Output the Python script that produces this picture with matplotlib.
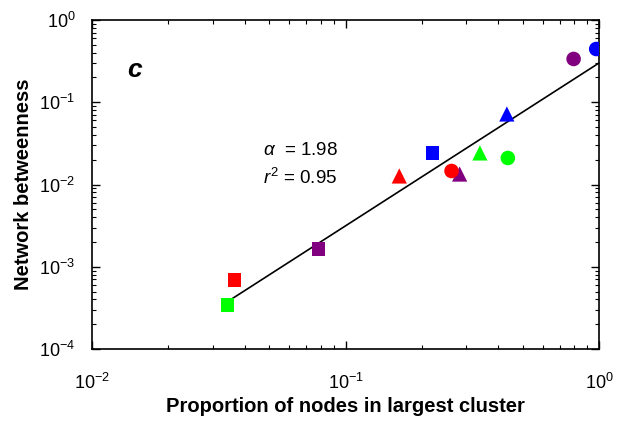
import numpy as np
import matplotlib
matplotlib.use('Agg')
import matplotlib.pyplot as plt

plt.rcParams['font.family'] = ['Liberation Sans', 'DejaVu Sans']
plt.rcParams['mathtext.fontset'] = 'custom'
plt.rcParams['mathtext.rm'] = 'Liberation Sans'
plt.rcParams['mathtext.it'] = 'Liberation Sans:italic'
plt.rcParams['axes.unicode_minus'] = False

# points: proportion of nodes in largest cluster vs network betweenness
squares_x = [0.0342, 0.0365, 0.078, 0.220]
squares_y = [0.000343, 0.00069, 0.00164, 0.0242]
squares_c = ['#00ff00', '#ff0000', '#800080', '#0000ff']

triangles_x = [0.163, 0.282, 0.339, 0.433]
triangles_y = [0.0127, 0.0134, 0.0242, 0.072]
triangles_c = ['#ff0000', '#800080', '#00ff00', '#0000ff']

circles_x = [0.262, 0.437, 0.794, 0.975]
circles_y = [0.0146, 0.0210, 0.336, 0.444]
circles_c = ['#ff0000', '#00ff00', '#800080', '#0000ff']

# power-law fit
fit_alpha = 1.98
fit_coef = 0.30
fit_x = np.array([0.0345, 1.0])
fit_y = fit_coef * fit_x ** fit_alpha

fig = plt.figure(figsize=(6.21, 4.33), dpi=100)
ax = fig.add_axes([92/621, 84/433, 507/621, 329/433])

ax.plot(fit_x, fit_y, color='black', linewidth=1.2, zorder=2)
ax.scatter(squares_x, squares_y, c=squares_c, marker='s', s=90, zorder=3, edgecolors='none')
ax.scatter(triangles_x, triangles_y, c=triangles_c, marker='^', s=120, zorder=3, edgecolors='none')
ax.scatter(circles_x, circles_y, c=circles_c, marker='o', s=110, zorder=3, edgecolors='none')

ax.set_xscale('log')
ax.set_yscale('log')
ax.set_xlim(1e-2, 1e0)
ax.set_ylim(1e-4, 1e0)
ax.set_xticks([1e-2, 1e-1, 1e0])
ax.set_yticks([1e-4, 1e-3, 1e-2, 1e-1, 1e0])

ax.tick_params(which='both', direction='in', top=True, right=True, labelsize=13)
ax.tick_params(which='major', length=6, width=1)
ax.tick_params(which='minor', length=3, width=0.8)
ax.tick_params(axis='x', pad=17)
ax.tick_params(axis='y', pad=12)
for s in ax.spines.values():
    s.set_linewidth(1.2)

ax.set_xlabel('Proportion of nodes in largest cluster', fontsize=14.5, fontweight='bold', labelpad=3)
ax.set_ylabel('Network betweenness', fontsize=14.5, fontweight='bold', labelpad=4.5)

ax.text(0.07, 0.848, 'c', transform=ax.transAxes, fontsize=19, fontweight='bold',
        fontstyle='italic', va='center', ha='left')
ax.text(0.338, 0.602, r'$\alpha$  = 1.98', transform=ax.transAxes, fontsize=13.5, va='center')
ax.text(0.338, 0.52, r'$r^2$ = 0.95', transform=ax.transAxes, fontsize=13.5, va='center')

fig.savefig('out.png', dpi=100)
